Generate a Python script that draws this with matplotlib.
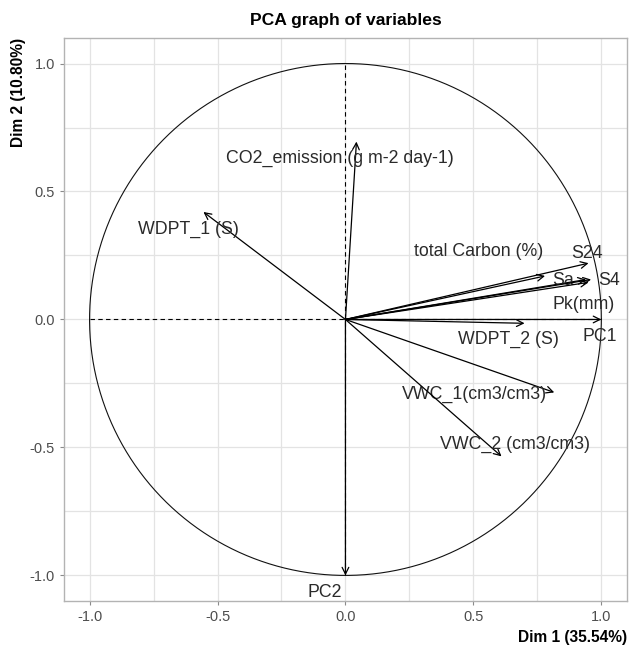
import matplotlib.pyplot as plt
import numpy as np

plt.rcParams['font.family'] = ['Liberation Sans', 'DejaVu Sans']

# variable coordinates (Dim1, Dim2)
names = ['CO2_emission (g m-2 day-1)', 'WDPT_1 (S)', 'total Carbon (%)', 'S24', 'Sa',
         'S4', 'Pk(mm)', 'PC1', 'WDPT_2 (S)', 'VWC_1(cm3/cm3)', 'VWC_2 (cm3/cm3)', 'PC2']
dim1 = [0.043, -0.555, 0.78, 0.95, 0.94, 0.96, 0.95, 1.0, 0.70, 0.816, 0.61, 0.0]
dim2 = [0.695, 0.42, 0.17, 0.22, 0.156, 0.156, 0.145, 0.0, -0.015, -0.285, -0.535, -1.0]
# label positions
lab_x = [-0.02, -0.613, 0.52, 0.945, 0.85, 1.03, 0.93, 0.995, 0.637, 0.505, 0.664, -0.08]
lab_y = [0.63, 0.35, 0.265, 0.258, 0.152, 0.152, 0.06, -0.065, -0.076, -0.293, -0.488, -1.065]

fig = plt.figure(figsize=(6.29, 6.45), dpi=100)
ax = fig.add_axes([0.1017, 0.0682, 0.895, 0.873])

ax.set_xlim(-1.1, 1.1)
ax.set_ylim(-1.1, 1.1)

# grid
for v in np.arange(-1.0, 1.01, 0.25):
    ax.axvline(v, color='#e3e3e3', lw=0.9, zorder=0)
    ax.axhline(v, color='#e3e3e3', lw=0.9, zorder=0)

# circle
t = np.linspace(0, 2 * np.pi, 400)
ax.plot(np.cos(t), np.sin(t), color='#111111', lw=0.8)

# dashed axes
ax.plot([-1, 1], [0, 0], color='black', lw=0.8, ls=(0, (4, 3)))
ax.plot([0, 0], [-1, 1], color='black', lw=0.8, ls=(0, (4, 3)))

for n, x, y, lx, ly in zip(names, dim1, dim2, lab_x, lab_y):
    ax.annotate('', xy=(x, y), xytext=(0, 0),
                arrowprops=dict(arrowstyle='->', color='black', lw=0.9,
                                shrinkA=0, shrinkB=0, mutation_scale=12))
    ax.text(lx, ly, n, ha='center', va='center', fontsize=12.8, color='#2a2a2a')

ax.set_xticks([-1.0, -0.5, 0.0, 0.5, 1.0])
ax.set_yticks([-1.0, -0.5, 0.0, 0.5, 1.0])
ax.set_xticklabels(['-1.0', '-0.5', '0.0', '0.5', '1.0'])
ax.set_yticklabels(['-1.0', '-0.5', '0.0', '0.5', '1.0'])
ax.tick_params(colors='#8a8a8a', labelcolor='#4d4d4d', labelsize=10.5, length=3, width=0.8)

for s in ax.spines.values():
    s.set_color('#b3b3b3')
    s.set_linewidth(1.0)

ax.set_title('PCA graph of variables', fontsize=12.6, fontweight='bold', pad=9)
ax.set_xlabel('Dim 1 (35.54%)', fontsize=11.2, fontweight='bold', loc='right', labelpad=4)
ax.set_ylabel('Dim 2 (10.80%)', fontsize=11.2, fontweight='bold', loc='top', labelpad=3)

fig.savefig('out.png', dpi=100)
